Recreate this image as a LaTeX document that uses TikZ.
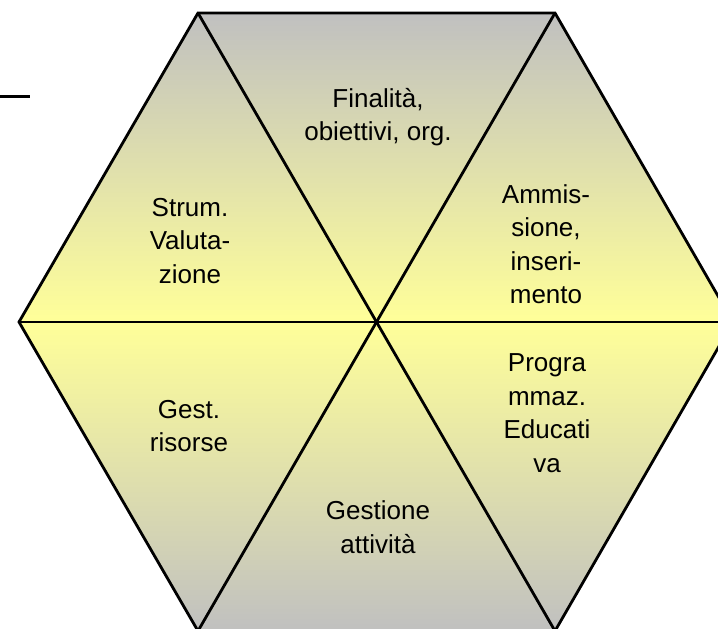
\documentclass[tikz,border=0pt]{standalone}
\usepackage{fontspec}
\setmainfont{Liberation Sans}
\definecolor{hexgray}{RGB}{192,192,192}
\definecolor{hexyellow}{RGB}{255,255,153}
\begin{document}
\begin{tikzpicture}[x=1pt,y=1pt,
  edge/.style={line width=2.8pt, line join=miter},
  lbl/.style={align=center, font=\fontsize{26}{33.5}\selectfont, inner sep=0pt}]
\useasboundingbox (0,0) rectangle (718,629);
\clip (0,0) rectangle (718,629);
% hexagon corners and centre
\coordinate (C)  at (376,307);
\coordinate (TL) at (198,616);
\coordinate (TR) at (555,616);
\coordinate (R)  at (733,307);
\coordinate (BR) at (555,-2);
\coordinate (BL) at (198,-2);
\coordinate (L)  at (19,307);
% vertical gradient: grey at the top and bottom, yellow across the middle
\shade[top color=hexgray, bottom color=hexgray, middle color=hexyellow]
  (TL) -- (TR) -- (R) -- (BR) -- (BL) -- (L) -- cycle;
% outline and the three diagonals
\draw[edge] (TL) -- (TR) -- (R) -- (BR) -- (BL) -- (L) -- cycle;
\draw[edge] (L) -- (R);
\draw[edge] (TL) -- (BR);
\draw[edge] (TR) -- (BL);
% short rule at the upper left
\coordinate (s1) at (0,532);
\coordinate (s2) at (30,532);
\draw[line width=3pt] (s1) -- (s2);
% sector labels
\node[lbl] (fin)   at (378,512) {Finalità,\\obiettivi, org.};
\node[lbl] (strum) at (190,388) {Strum.\\Valuta-\\zione};
\node[lbl] (amm)   at (546,385) {Ammis-\\sione,\\inseri-\\mento};
\node[lbl] (prog)  at (547,216) {Progra\\mmaz.\\Educati\\va};
\node[lbl] (gest)  at (189,203) {Gest.\\risorse};
\node[lbl] (att)   at (378,102) {Gestione\\attività};
\end{tikzpicture}
\end{document}
